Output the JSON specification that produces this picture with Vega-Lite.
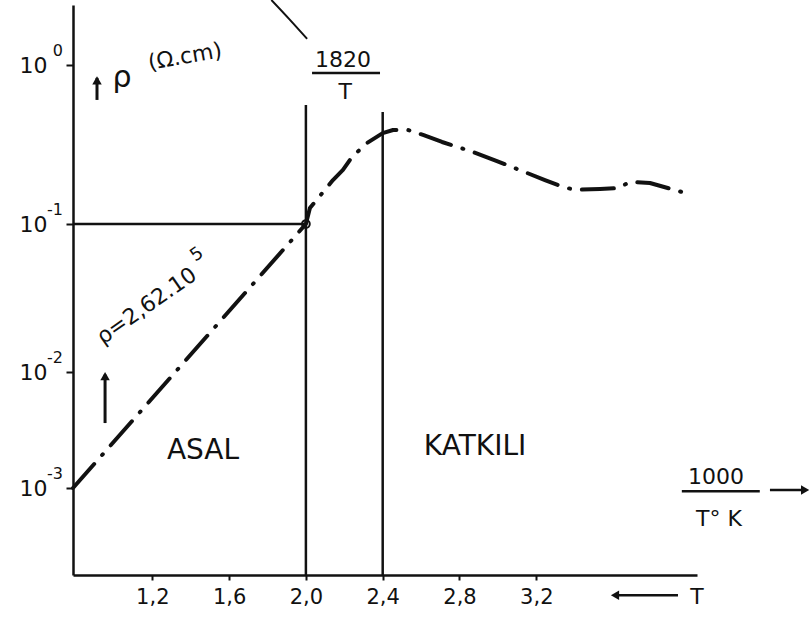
{
  "$schema": "https://vega.github.io/schema/vega-lite/v6.json",
  "width": 624,
  "height": 570,
  "autosize": {"type": "none"},
  "padding": {"left": 73, "top": 5, "right": 115, "bottom": 43},
  "background": "white",
  "config": {"view": {"stroke": null}, "font": "DejaVu Sans", "text": {"font": "DejaVu Sans", "color": "#111"}},
  "datasets": {
    "curve": [
      {"x": 0.787, "y": 0.001}, {"x": 2.0, "y": 0.1}, {"x": 2.021, "y": 0.126}, {"x": 2.141, "y": 0.189},
      {"x": 2.193, "y": 0.219}, {"x": 2.24, "y": 0.264}, {"x": 2.318, "y": 0.323}, {"x": 2.4, "y": 0.373},
      {"x": 2.454, "y": 0.39}, {"x": 2.532, "y": 0.39}, {"x": 2.61, "y": 0.363}, {"x": 2.709, "y": 0.328},
      {"x": 2.855, "y": 0.288}, {"x": 2.995, "y": 0.249}, {"x": 3.141, "y": 0.212}, {"x": 3.245, "y": 0.189},
      {"x": 3.339, "y": 0.171}, {"x": 3.401, "y": 0.164}, {"x": 3.532, "y": 0.166}, {"x": 3.625, "y": 0.168},
      {"x": 3.688, "y": 0.184}, {"x": 3.792, "y": 0.181}, {"x": 3.974, "y": 0.157}
    ],
    "vlines": [
      {"x": 2.0, "y": 0.00018, "y2": 0.56},
      {"x": 2.4, "y": 0.00018, "y2": 0.506}
    ],
    "hlines": [
      {"x": 0.787, "x2": 2.0, "y": 0.1},
      {"x": 2.032, "x2": 2.386, "y": 0.891},
      {"x": 3.958, "x2": 4.364, "y": 0.00094},
      {"x": 4.417, "x2": 4.59, "y": 0.00096},
      {"x": 3.63, "x2": 3.938, "y": 0.000121}
    ],
    "arrowshafts": [
      {"x": 0.912, "y": 0.603, "y2": 0.83},
      {"x": 0.954, "y": 0.00363, "y2": 0.0095}
    ],
    "uparrows": [
      {"x": 0.912, "y": 0.8},
      {"x": 0.954, "y": 0.0092}
    ],
    "rightarrows": [{"x": 4.6, "y": 0.00096}],
    "leftarrows": [{"x": 3.61, "y": 0.000121}],
    "marker": [{"x": 2.0, "y": 0.1}],
    "stroke": [{"x": 1.82, "y": 2.56}, {"x": 1.917, "y": 1.92}, {"x": 2.006, "y": 1.46}],
    "exponents": [
      {"x": 0.787, "y": 1, "t": "0"},
      {"x": 0.787, "y": 0.1, "t": "-1"},
      {"x": 0.787, "y": 0.01, "t": "-2"},
      {"x": 0.787, "y": 0.001, "t": "-3"}
    ],
    "bigtext": [
      {"x": 1.464, "y": 0.00208, "t": "ASAL"},
      {"x": 2.881, "y": 0.00226, "t": "KATKILI"}
    ],
    "fractext": [
      {"x": 2.193, "y": 1.075, "t": "1820"},
      {"x": 2.205, "y": 0.676, "t": "T"},
      {"x": 4.136, "y": 0.00124, "t": "1000"},
      {"x": 4.151, "y": 0.00054, "t": "T° K"},
      {"x": 4.037, "y": 0.000117, "t": "T"}
    ],
    "rho": [{"x": 1.042, "y": 0.828, "t": "ρ"}],
    "unit": [{"x": 1.37, "y": 1.13, "t": "(Ω.cm)"}],
    "formula": [{"x": 1.17, "y": 0.028, "t": "ρ=2,62.10"}],
    "formulaexp": [{"x": 1.433, "y": 0.062, "t": "5"}]
  },
  "encoding": {
    "x": {
      "field": "x", "type": "quantitative",
      "scale": {"domain": [0.787, 4.037], "nice": false, "zero": false},
      "axis": {
        "title": null, "values": [1.2, 1.6, 2.0, 2.4, 2.8, 3.2],
        "labelExpr": "replace(format(datum.value,'.1f'),'.',',')",
        "grid": false, "domainColor": "#111", "domainWidth": 2.5,
        "tickColor": "#111", "tickWidth": 2, "tickSize": 5,
        "labelFontSize": 21, "labelColor": "#111", "labelPadding": 6, "labelFont": "DejaVu Sans"
      }
    },
    "y": {
      "field": "y", "type": "quantitative",
      "scale": {"type": "log", "domain": [0.00018, 0.001, 0.01, 0.1, 1, 2.38], "range": [570, 483, 367, 219, 60, 0], "nice": false},
      "axis": {
        "title": null, "values": [0.001, 0.01, 0.1, 1],
        "labelExpr": "'10'",
        "grid": false, "domainColor": "#111", "domainWidth": 2.5,
        "tickColor": "#111", "tickWidth": 2, "tickSize": 7,
        "labelFontSize": 22, "labelColor": "#111", "labelPadding": 19, "labelFont": "DejaVu Sans"
      }
    }
  },
  "layer": [
    {"data": {"name": "vlines"}, "mark": {"type": "rule", "strokeWidth": 2.5, "color": "#111"}, "encoding": {"y2": {"field": "y2"}}},
    {"data": {"name": "hlines"}, "mark": {"type": "rule", "strokeWidth": 2.5, "color": "#111"}, "encoding": {"x2": {"field": "x2"}}},
    {"data": {"name": "arrowshafts"}, "mark": {"type": "rule", "strokeWidth": 3, "color": "#111"}, "encoding": {"y2": {"field": "y2"}}},
    {"data": {"name": "curve"}, "mark": {"type": "line", "interpolate": "linear", "strokeWidth": 4, "strokeCap": "round", "strokeJoin": "round", "strokeDash": [32, 12, 1, 12], "color": "#111"}},
    {"data": {"name": "stroke"}, "mark": {"type": "line", "interpolate": "monotone", "strokeWidth": 2, "color": "#111"}},
    {"data": {"name": "marker"}, "mark": {"type": "point", "filled": false, "size": 60, "strokeWidth": 2, "opacity": 1, "color": "#111"}},
    {"data": {"name": "uparrows"}, "mark": {"type": "point", "shape": "triangle-up", "filled": true, "size": 90, "opacity": 1, "color": "#111"}},
    {"data": {"name": "rightarrows"}, "mark": {"type": "point", "shape": "triangle-right", "filled": true, "size": 90, "opacity": 1, "color": "#111"}},
    {"data": {"name": "leftarrows"}, "mark": {"type": "point", "shape": "triangle-left", "filled": true, "size": 90, "opacity": 1, "color": "#111"}},
    {"data": {"name": "exponents"}, "mark": {"type": "text", "fontSize": 16, "align": "right", "baseline": "middle", "dx": -10, "dy": -14, "color": "#111"}, "encoding": {"text": {"field": "t"}}},
    {"data": {"name": "bigtext"}, "mark": {"type": "text", "fontSize": 28, "align": "center", "baseline": "middle", "color": "#111"}, "encoding": {"text": {"field": "t"}}},
    {"data": {"name": "fractext"}, "mark": {"type": "text", "fontSize": 22, "align": "center", "baseline": "middle", "color": "#111"}, "encoding": {"text": {"field": "t"}}},
    {"data": {"name": "rho"}, "mark": {"type": "text", "fontSize": 30, "align": "center", "baseline": "middle", "color": "#111"}, "encoding": {"text": {"field": "t"}}},
    {"data": {"name": "unit"}, "mark": {"type": "text", "fontSize": 22, "angle": -10, "align": "center", "baseline": "middle", "color": "#111"}, "encoding": {"text": {"field": "t"}}},
    {"data": {"name": "formula"}, "mark": {"type": "text", "fontSize": 22, "angle": -35, "align": "center", "baseline": "middle", "color": "#111"}, "encoding": {"text": {"field": "t"}}},
    {"data": {"name": "formulaexp"}, "mark": {"type": "text", "fontSize": 18, "angle": -35, "align": "center", "baseline": "middle", "color": "#111"}, "encoding": {"text": {"field": "t"}}}
  ]
}
